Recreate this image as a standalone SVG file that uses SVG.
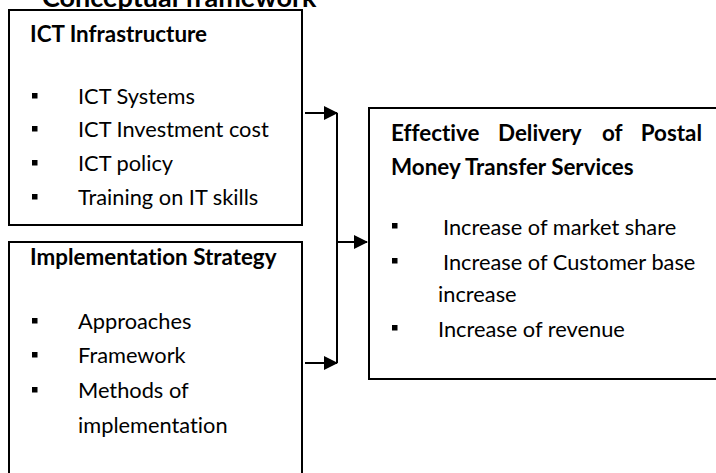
<svg xmlns="http://www.w3.org/2000/svg" width="716" height="473" viewBox="0 0 716 473">
  <style>
    text { font-variant-ligatures: none; font-feature-settings: "liga" 0, "dlig" 0; }
    .box { fill: #ffffff; stroke: #000000; stroke-width: 2; }
    .hd { font-family: Lato, "Liberation Sans", sans-serif; font-weight: bold; font-size: 22.4px; fill: #000000; }
    .tx { font-family: Lato, "Liberation Sans", sans-serif; font-size: 21.8px; fill: #000000; }
    .title { font-size: 27px; }
    .bul { fill: #000000; }
    .wire { fill: none; stroke: #000000; stroke-width: 2; }
  </style>
  <defs>
    <marker id="arrow" viewBox="0 0 14 14" refX="13" refY="7" markerWidth="14" markerHeight="14" markerUnits="userSpaceOnUse" orient="auto">
      <path d="M0,0 L14,7 L0,14 Z" fill="#000000"/>
    </marker>
  </defs>
  <rect width="716" height="473" fill="#ffffff"/>

  <!-- title, partly above the top edge -->
  <text class="hd title" x="42" y="7">Conceptual framework</text>

  <g id="ict-infrastructure">
    <rect class="box" x="9" y="10" width="293" height="215"/>
    <text class="hd" x="30" y="42">ICT Infrastructure</text>
    <rect class="bul" x="32" y="93" width="5.5" height="5.5"/>
    <text class="tx" x="78" y="104">ICT Systems</text>
    <rect class="bul" x="32" y="126" width="5.5" height="5.5"/>
    <text class="tx" x="78" y="137">ICT Investment cost</text>
    <rect class="bul" x="32" y="160" width="5.5" height="5.5"/>
    <text class="tx" x="78" y="171">ICT policy</text>
    <rect class="bul" x="32" y="194" width="5.5" height="5.5"/>
    <text class="tx" x="78" y="205">Training on IT skills</text>
  </g>

  <g id="implementation-strategy">
    <rect class="box" x="9" y="242" width="293" height="240"/>
    <text class="hd" x="30" y="265">Implementation Strategy</text>
    <rect class="bul" x="32" y="318" width="5.5" height="5.5"/>
    <text class="tx" x="78" y="329">Approaches</text>
    <rect class="bul" x="32" y="352" width="5.5" height="5.5"/>
    <text class="tx" x="78" y="363">Framework</text>
    <rect class="bul" x="32" y="387" width="5.5" height="5.5"/>
    <text class="tx" x="78" y="398">Methods of</text>
    <text class="tx" x="78" y="433">implementation</text>
  </g>

  <g id="effective-delivery">
    <rect class="box" x="369" y="108" width="360" height="271"/>
    <text class="hd" x="391" y="141">Effective</text>
    <text class="hd" x="498" y="141">Delivery</text>
    <text class="hd" x="602" y="141">of</text>
    <text class="hd" x="702" y="141" text-anchor="end">Postal</text>
    <text class="hd" x="391" y="175">Money Transfer Services</text>
    <rect class="bul" x="392" y="223" width="5.5" height="5.5"/>
    <text class="tx" x="443" y="235">Increase of market share</text>
    <rect class="bul" x="392" y="258" width="5.5" height="5.5"/>
    <text class="tx" x="443" y="270">Increase of Customer base</text>
    <text class="tx" x="438" y="302">increase</text>
    <rect class="bul" x="392" y="325" width="5.5" height="5.5"/>
    <text class="tx" x="438" y="337">Increase of revenue</text>
  </g>

  <g id="connectors">
    <path class="wire" d="M305,113 H337" marker-end="url(#arrow)"/>
    <path class="wire" d="M305,363 H337" marker-end="url(#arrow)"/>
    <path class="wire" d="M337,113 V363"/>
    <path class="wire" d="M337,242 H367" marker-end="url(#arrow)"/>
  </g>
</svg>
